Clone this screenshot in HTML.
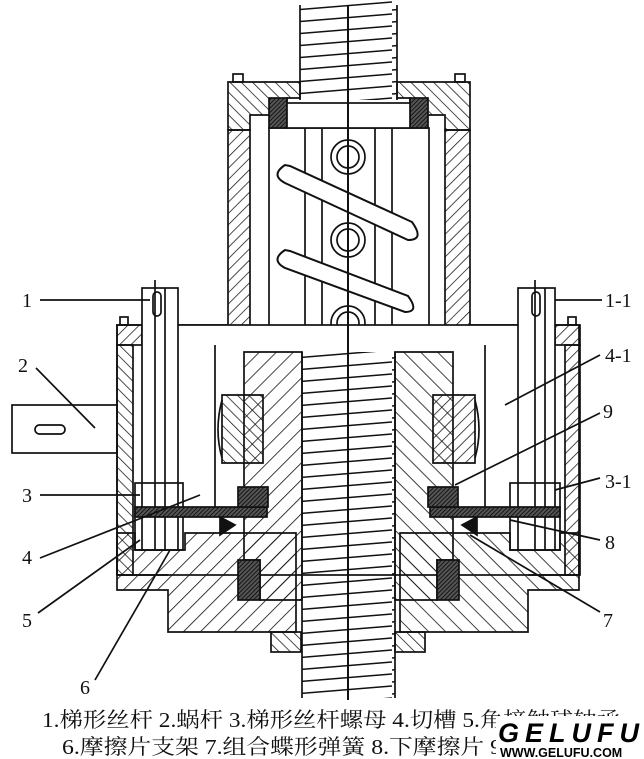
<!DOCTYPE html>
<html><head><meta charset="utf-8"><style>
html,body{margin:0;padding:0;background:#fff;}
svg{display:block}
.t{font-family:"Liberation Serif","Noto Serif CJK SC",serif;fill:#111}
.logo{font-family:"Liberation Sans",sans-serif;font-weight:bold;fill:#000}
</style></head><body>
<svg width="644" height="759" viewBox="0 0 644 759" xmlns="http://www.w3.org/2000/svg">
<defs>
<pattern id="h1" width="8" height="8" patternUnits="userSpaceOnUse" patternTransform="rotate(45)"><line x1="0" y1="0" x2="0" y2="8" stroke="#111" stroke-width="1.5"/></pattern>
<pattern id="h2" width="8" height="8" patternUnits="userSpaceOnUse" patternTransform="rotate(-45)"><line x1="0" y1="0" x2="0" y2="8" stroke="#111" stroke-width="1.5"/></pattern>
<pattern id="h3" width="12" height="12" patternUnits="userSpaceOnUse" patternTransform="rotate(45)"><line x1="0" y1="0" x2="0" y2="12" stroke="#111" stroke-width="1.6"/></pattern>
<pattern id="h4" width="12" height="12" patternUnits="userSpaceOnUse" patternTransform="rotate(-45)"><line x1="0" y1="0" x2="0" y2="12" stroke="#111" stroke-width="1.6"/></pattern>
<pattern id="d" width="3" height="3" patternUnits="userSpaceOnUse" patternTransform="rotate(45)"><rect width="3" height="3" fill="#555"/><line x1="0" y1="0" x2="0" y2="3" stroke="#000" stroke-width="1.5"/></pattern>
<pattern id="thr" width="98" height="12" patternUnits="userSpaceOnUse"><path d="M0 10 L98 2" stroke="#111" stroke-width="1.6" fill="none"/></pattern>
</defs>
<g stroke="#111" stroke-width="1.7" fill="none">
<rect x="300" y="0" width="97" height="100" fill="url(#thr)" stroke="none"/>
<line x1="300" y1="5" x2="300" y2="100"/><line x1="397" y1="5" x2="397" y2="100"/>
<path d="M228 82 H300 V98 H287 V115 H250 V130 H228 Z" fill="url(#h2)"/>
<path d="M397 82 H470 V130 H445 V115 H410 V98 H397 Z" fill="url(#h2)"/>
<rect x="233" y="74" width="10" height="8"/><rect x="455" y="74" width="10" height="8"/>
<rect x="228" y="130" width="22" height="215" fill="url(#h1)"/>
<rect x="445" y="130" width="25" height="215" fill="url(#h1)"/>
<path d="M178 325 H228 V345 H178 Z" fill="url(#h1)"/>
<path d="M470 325 H517 V345 H470 Z" fill="url(#h1)"/>
<rect x="269" y="128" width="160" height="224" fill="#fff"/>
<rect x="269" y="98" width="18" height="30" fill="url(#d)"/><rect x="410" y="98" width="18" height="30" fill="url(#d)"/>
<rect x="287" y="103" width="123" height="25" fill="#fff"/>
<line x1="305" y1="128" x2="305" y2="352"/><line x1="322" y1="128" x2="322" y2="352"/><line x1="375" y1="128" x2="375" y2="352"/><line x1="392" y1="128" x2="392" y2="352"/>
<circle cx="348" cy="157" r="17" fill="#fff"/><circle cx="348" cy="157" r="11"/>
<circle cx="348" cy="240" r="17" fill="#fff"/><circle cx="348" cy="240" r="11"/>
<circle cx="348" cy="323" r="17" fill="#fff"/><circle cx="348" cy="323" r="11"/>
<path d="M285 165 Q270 175 285 183 L408 240 Q425 240 412 222 L290 166 Z" fill="#fff" stroke-width="2"/>
<path d="M285 250 Q270 260 285 268 L405 312 Q420 312 408 296 L290 251 Z" fill="#fff" stroke-width="2"/>
<rect x="117" y="325" width="462" height="250" fill="#fff"/>
<rect x="117" y="345" width="16" height="230" fill="url(#h2)"/>
<rect x="565" y="345" width="15" height="230" fill="url(#h1)"/>
<rect x="117" y="325" width="25" height="20" fill="url(#h1)"/><rect x="555" y="325" width="25" height="20" fill="url(#h1)"/>
<rect x="120" y="317" width="8" height="8"/><rect x="568" y="317" width="8" height="8"/>
<path d="M117 533 H135 V550 H185 V533 H296 V632 H168 V590 H117 Z" fill="url(#h3)"/>
<path d="M579 533 H560 V550 H510 V533 H400 V632 H528 V590 H579 Z" fill="url(#h4)"/>
<path d="M117 575 H168 M528 575 H579"/>
<rect x="271" y="632" width="30" height="20" fill="url(#h2)"/><rect x="395" y="632" width="30" height="20" fill="url(#h2)"/>
<rect x="302" y="352" width="93" height="346" fill="url(#thr)" stroke="none"/>
<line x1="302" y1="352" x2="302" y2="698"/><line x1="395" y1="352" x2="395" y2="698"/>
<path d="M244 352 H302 V600 H260 V560 H244 Z" fill="url(#h3)"/>
<path d="M453 352 H395 V600 H437 V560 H453 Z" fill="url(#h4)"/>
<path d="M222 395 H263 V463 H222 Z" fill="url(#h2)"/><path d="M222 400 Q214 430 222 458"/>
<path d="M433 395 H475 V463 H433 Z" fill="url(#h1)"/><path d="M475 400 Q483 430 475 458"/>
<rect x="142" y="288" width="36" height="262" fill="#fff"/>
<line x1="155" y1="280" x2="155" y2="550"/><line x1="165" y1="288" x2="165" y2="550"/>
<rect x="153" y="292" width="8" height="24" rx="4"/>
<rect x="518" y="288" width="37" height="262" fill="#fff"/>
<line x1="535" y1="280" x2="535" y2="550"/><line x1="545" y1="288" x2="545" y2="550"/>
<rect x="532" y="292" width="8" height="24" rx="4"/>
<line x1="215" y1="345" x2="215" y2="517"/><line x1="485" y1="345" x2="485" y2="517"/>
<rect x="135" y="483" width="48" height="67"/><rect x="510" y="483" width="50" height="67"/>
<rect x="135" y="507" width="132" height="10" fill="url(#d)"/>
<rect x="430" y="507" width="130" height="10" fill="url(#d)"/>
<rect x="238" y="487" width="30" height="20" fill="url(#d)"/><rect x="428" y="487" width="30" height="20" fill="url(#d)"/>
<rect x="238" y="560" width="22" height="40" fill="url(#d)"/><rect x="437" y="560" width="22" height="40" fill="url(#d)"/>
<path d="M220 517 L235 525 L220 535 Z" fill="#111"/><path d="M477 517 L462 525 L477 535 Z" fill="#111"/>
<rect x="12" y="405" width="105" height="48"/>
<rect x="35" y="425" width="30" height="9" rx="4.5"/>
<line x1="348" y1="5" x2="348" y2="700" stroke-width="2"/>
<line x1="40" y1="300" x2="150" y2="300"/><line x1="555" y1="300" x2="602" y2="300"/>
<line x1="36" y1="368" x2="95" y2="428"/>
<line x1="40" y1="495" x2="140" y2="495"/>
<line x1="40" y1="558" x2="200" y2="495"/>
<line x1="38" y1="613" x2="140" y2="540"/>
<line x1="95" y1="680" x2="170" y2="550"/>
<line x1="505" y1="405" x2="600" y2="355"/>
<line x1="455" y1="485" x2="600" y2="413"/>
<line x1="555" y1="490" x2="600" y2="478"/>
<line x1="510" y1="520" x2="600" y2="540"/>
<line x1="470" y1="535" x2="600" y2="612"/>
</g>
<g font-size="20" class="t">
<text class="t" x="22" y="307">1</text><text class="t" x="605" y="307">1-1</text>
<text class="t" x="18" y="372">2</text><text class="t" x="605" y="362">4-1</text>
<text class="t" x="603" y="418">9</text><text class="t" x="605" y="488">3-1</text>
<text class="t" x="22" y="502">3</text><text class="t" x="605" y="549">8</text>
<text class="t" x="22" y="564">4</text><text class="t" x="22" y="627">5</text>
<text class="t" x="603" y="627">7</text><text class="t" x="80" y="694">6</text>
</g>
<text class="t" x="42" y="727" font-size="21" textLength="578" lengthAdjust="spacingAndGlyphs">1.梯形丝杆 2.蜗杆 3.梯形丝杆螺母 4.切槽 5.角接触球轴承</text>
<text class="t" x="62" y="754" font-size="21" textLength="440" lengthAdjust="spacingAndGlyphs">6.摩擦片支架 7.组合蝶形弹簧 8.下摩擦片 9</text>
<rect x="496" y="716" width="148" height="43" fill="#fff"/>
<text class="logo" x="498" y="742" font-size="27" font-style="italic" letter-spacing="6">GELUFU</text>
<text class="logo" x="500" y="757" font-size="12.5">WWW.GELUFU.COM</text>
</svg>
</body></html>
